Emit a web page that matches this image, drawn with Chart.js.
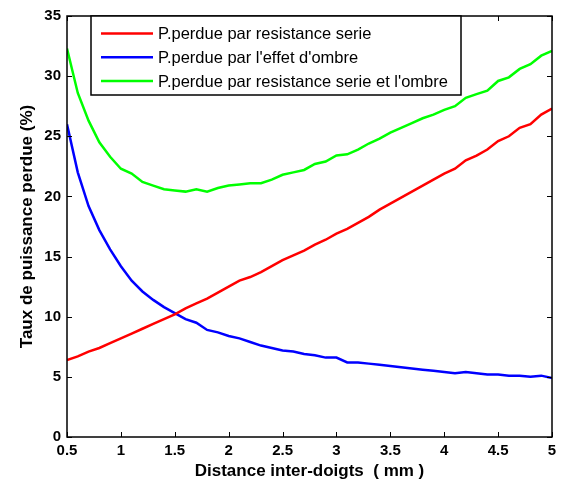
<!DOCTYPE html>
<html>
<head>
<meta charset="utf-8">
<script src="https://cdn.jsdelivr.net/npm/chart.js@4/dist/chart.umd.min.js"></script>
<style>
  html, body { margin: 0; padding: 0; background: #fff; }
  #wrap { width: 563px; height: 484px; }
</style>
</head>
<body>
<div id="wrap"><canvas id="pertesChart" width="563" height="484"></canvas></div>
<script>
// Distance inter-doigts (mm)
const distances = [0.5, 0.6, 0.7, 0.8, 0.9, 1.0, 1.1, 1.2, 1.3, 1.4,
    1.5, 1.6, 1.7, 1.8, 1.9, 2.0, 2.1, 2.2, 2.3, 2.4,
    2.5, 2.6, 2.7, 2.8, 2.9, 3.0, 3.1, 3.2, 3.3, 3.4,
    3.5, 3.6, 3.7, 3.8, 3.9, 4.0, 4.1, 4.2, 4.3, 4.4,
    4.5, 4.6, 4.7, 4.8, 4.9, 5.0];

// P.perdue par resistance serie (%)
const perteSerie = [6.4, 6.7, 7.1, 7.4, 7.8, 8.2, 8.6, 9.0, 9.4, 9.8,
    10.2, 10.7, 11.1, 11.5, 12.0, 12.5, 13.0, 13.3, 13.7, 14.2,
    14.7, 15.1, 15.5, 16.0, 16.4, 16.9, 17.3, 17.8, 18.3, 18.9,
    19.4, 19.9, 20.4, 20.9, 21.4, 21.9, 22.3, 23.0, 23.4, 23.9,
    24.6, 25.0, 25.7, 26.0, 26.8, 27.3];

// P.perdue par l'effet d'ombre (%)
const perteOmbre = [26.0, 22.0, 19.2, 17.2, 15.6, 14.2, 13.0, 12.1, 11.4, 10.8,
    10.3, 9.8, 9.5, 8.9, 8.7, 8.4, 8.2, 7.9, 7.6, 7.4,
    7.2, 7.1, 6.9, 6.8, 6.6, 6.6, 6.2, 6.2, 6.1, 6.0,
    5.9, 5.8, 5.7, 5.6, 5.5, 5.4, 5.3, 5.4, 5.3, 5.2,
    5.2, 5.1, 5.1, 5.0, 5.1, 4.9];

// P.perdue par resistance serie et l'ombre (%)
const perteTotale = [32.3, 28.6, 26.3, 24.5, 23.3, 22.3, 21.9, 21.2, 20.9, 20.6,
    20.5, 20.4, 20.6, 20.4, 20.7, 20.9, 21.0, 21.1, 21.1, 21.4,
    21.8, 22.0, 22.2, 22.7, 22.9, 23.4, 23.5, 23.9, 24.4, 24.8,
    25.3, 25.7, 26.1, 26.5, 26.8, 27.2, 27.5, 28.2, 28.5, 28.8,
    29.6, 29.9, 30.6, 31.0, 31.7, 32.1];

const seriesLabels = [
    'P.perdue par resistance serie',
    "P.perdue par l'effet d'ombre",
    "P.perdue par resistance serie et l'ombre"
];
const seriesColors = ['#ff0000', '#0000ff', '#00ff00'];

const FONT = "'Liberation Sans', Arial, sans-serif";

function toPoints(values) {
    return distances.map((d, i) => ({ x: d, y: values[i] }));
}

// Axes box with inward ticks on all four sides (matlab style)
const boxPlugin = {
    id: 'boxAxes',
    afterDatasetsDraw(chart) {
        const { ctx, chartArea: a, scales } = chart;
        const tick = 5;
        ctx.save();
        ctx.strokeStyle = '#000';
        ctx.lineWidth = 1;
        ctx.beginPath();
        scales.x.ticks.forEach(t => {
            const px = Math.round(scales.x.getPixelForValue(t.value)) + 0.5;
            ctx.moveTo(px, a.bottom); ctx.lineTo(px, a.bottom - tick);
            ctx.moveTo(px, a.top); ctx.lineTo(px, a.top + tick);
        });
        scales.y.ticks.forEach(t => {
            const py = Math.round(scales.y.getPixelForValue(t.value)) + 0.5;
            ctx.moveTo(a.left, py); ctx.lineTo(a.left + tick, py);
            ctx.moveTo(a.right, py); ctx.lineTo(a.right - tick, py);
        });
        ctx.stroke();
        ctx.lineWidth = 1.5;
        ctx.strokeRect(a.left, a.top, a.right - a.left, a.bottom - a.top);
        ctx.restore();
    }
};

// Legend box in the upper left of the axes
const legendPlugin = {
    id: 'boxLegend',
    afterDraw(chart) {
        const { ctx, chartArea: a } = chart;
        const x0 = a.left + 24, y0 = a.top, w = 370, h = 79;
        ctx.save();
        ctx.fillStyle = '#fff';
        ctx.fillRect(x0, y0, w, h);
        ctx.strokeStyle = '#000';
        ctx.lineWidth = 1.5;
        ctx.strokeRect(x0, y0, w, h);
        ctx.font = '16.5px ' + FONT;
        ctx.textBaseline = 'middle';
        chart.data.datasets.forEach((ds, i) => {
            const y = y0 + 17.5 + i * 23.8;
            ctx.strokeStyle = ds.borderColor;
            ctx.lineWidth = 2.5;
            ctx.beginPath();
            ctx.moveTo(x0 + 10, y);
            ctx.lineTo(x0 + 62, y);
            ctx.stroke();
            ctx.fillStyle = '#000';
            ctx.fillText(ds.label, x0 + 67, y + 1);
        });
        ctx.restore();
    }
};

const ctx = document.getElementById('pertesChart').getContext('2d');
new Chart(ctx, {
    type: 'line',
    data: {
        datasets: [perteSerie, perteOmbre, perteTotale].map((vals, i) => ({
            label: seriesLabels[i],
            data: toPoints(vals),
            borderColor: seriesColors[i],
            backgroundColor: seriesColors[i],
            borderWidth: 2.5,
            pointRadius: 0,
            tension: 0,
            fill: false
        }))
    },
    options: {
        responsive: false,
        animation: false,
        devicePixelRatio: 1,
        layout: { padding: { left: 0, top: 16, right: 11, bottom: 0 } },
        plugins: {
            legend: { display: false },
            tooltip: { enabled: false }
        },
        scales: {
            x: {
                type: 'linear',
                min: 0.5,
                max: 5,
                grid: { display: false, drawTicks: false, tickLength: 0 },
                border: { display: false },
                ticks: {
                    stepSize: 0.5,
                    padding: 5,
                    color: '#000',
                    maxRotation: 0,
                    font: { family: FONT, size: 15, weight: 'bold' },
                    callback: v => String(v)
                },
                title: {
                    display: true,
                    text: 'Distance inter-doigts  ( mm )',
                    color: '#000',
                    font: { family: FONT, size: 17, weight: 'bold' },
                    padding: { top: 0, bottom: 2 }
                },
                afterFit(scale) { scale.height = 47; }
            },
            y: {
                min: 0,
                max: 35,
                grid: { display: false, drawTicks: false, tickLength: 0 },
                border: { display: false },
                ticks: {
                    stepSize: 5,
                    padding: 6,
                    color: '#000',
                    font: { family: FONT, size: 15, weight: 'bold' }
                },
                title: {
                    display: true,
                    text: 'Taux de puissance perdue (%)',
                    color: '#000',
                    font: { family: FONT, size: 17, weight: 'bold' },
                    padding: { top: 17, bottom: 0 }
                },
                afterFit(scale) { scale.width = 67; }
            }
        }
    },
    plugins: [boxPlugin, legendPlugin]
});
</script>
</body>
</html>
